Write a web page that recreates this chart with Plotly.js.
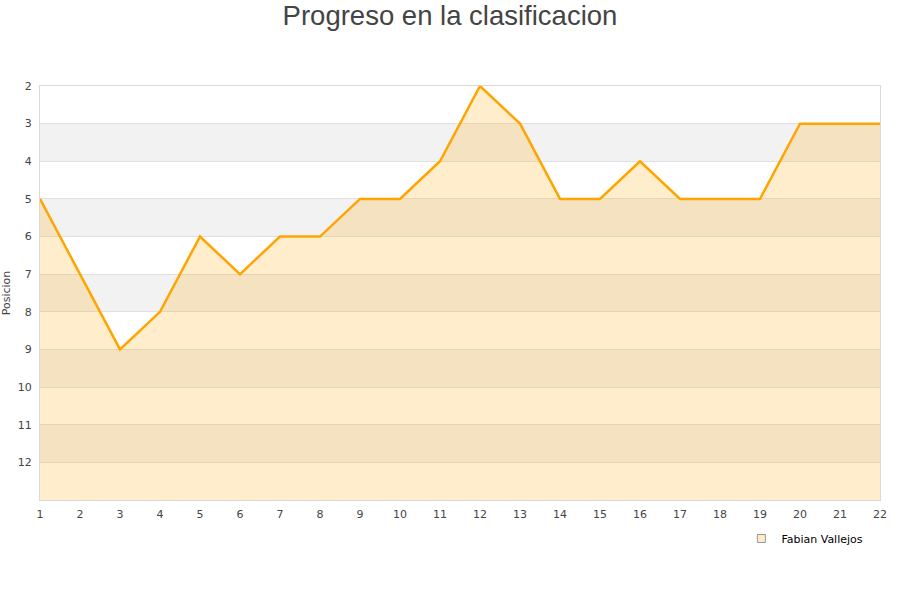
<!DOCTYPE html>
<html>
<head>
<meta charset="utf-8">
<script src="https://cdn.plot.ly/plotly-3.0.1.min.js"></script>
<style>html,body{margin:0;padding:0;background:#fff;}#chart{width:900px;height:600px;}</style>
</head>
<body>
<div id="chart"></div>
<script>
const jornadas = [1,2,3,4,5,6,7,8,9,10,11,12,13,14,15,16,17,18,19,20,21,22];
const posicion = [5,7,9,8,6,7,6,6,5,5,4,2,3,5,5,4,5,5,5,3,3,3];
const serieNombre = 'Fabian Vallejos';
const yTicks = [2,3,4,5,6,7,8,9,10,11,12];
const yBottom = 13;
const bandStarts = [3,5,7,9,11];

const baseline = {
  x: jornadas, y: jornadas.map(() => yBottom),
  mode: 'lines', line: {width: 0, color: 'rgba(0,0,0,0)'},
  showlegend: false, hoverinfo: 'skip'
};
const serie = {
  x: jornadas, y: posicion, name: serieNombre,
  mode: 'lines', fill: 'tonexty', fillcolor: 'rgba(255,165,0,0.2)',
  line: {color: '#ffa500', width: 2.5}, showlegend: false
};
const leyenda = {
  x: [null], y: [null], name: serieNombre, mode: 'markers',
  marker: {symbol: 'square', size: 8, color: '#ffebc9', line: {color: '#999', width: 1}},
  showlegend: true, hoverinfo: 'skip'
};

const shapes = bandStarts.map(s => ({
  type: 'rect', xref: 'paper', yref: 'y', x0: 0, x1: 1, y0: s, y1: s + 1,
  fillcolor: '#f2f2f2', line: {width: 0}, layer: 'below'
}));

const layout = {
  width: 900, height: 600,
  paper_bgcolor: '#fff', plot_bgcolor: '#fff',
  margin: {l: 40, r: 20, t: 86, b: 100},
  title: {text: 'Progreso en la clasificacion', x: 0.5, xanchor: 'center', y: 0.975, yanchor: 'middle',
    font: {family: 'Liberation Sans, Arial, sans-serif', size: 27.5, color: '#444'}},
  font: {family: 'DejaVu Sans, sans-serif', size: 11, color: '#444'},
  xaxis: {range: [1, 22], tickvals: jornadas, showgrid: false, zeroline: false,
    showline: true, mirror: true, linecolor: '#d9d9d9', linewidth: 1,
    ticks: 'outside', ticklen: 4, tickcolor: 'rgba(0,0,0,0)', tickfont: {size: 11, color: '#444'}},
  yaxis: {range: [yBottom, 2], tickvals: yTicks, showgrid: true, gridcolor: '#e0e0e0',
    zeroline: false, showline: true, mirror: true, linecolor: '#d9d9d9', linewidth: 1,
    ticks: 'outside', ticklen: 5, tickcolor: 'rgba(0,0,0,0)', tickfont: {size: 11, color: '#444'},
    title: {text: 'Posicion', font: {size: 11, color: '#444'}, standoff: 8}},
  shapes: shapes,
  showlegend: true,
  legend: {x: 0.835, y: -0.058, xanchor: 'left', yanchor: 'top', bgcolor: 'rgba(0,0,0,0)',
    font: {size: 11, color: '#000'}}
};

Plotly.newPlot('chart', [baseline, serie, leyenda], layout, {displayModeBar: false, staticPlot: true});
</script>
</body>
</html>
